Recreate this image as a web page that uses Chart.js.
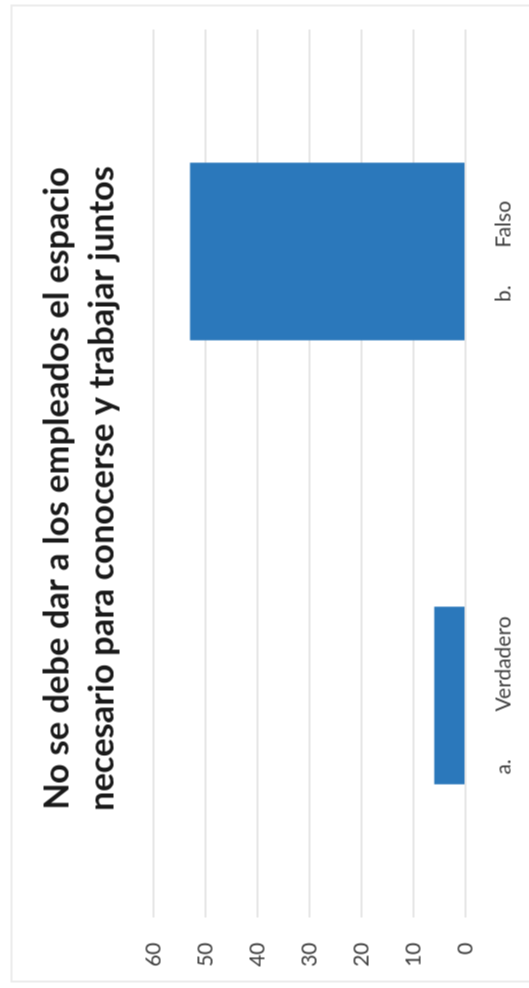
<!DOCTYPE html>
<html>
<head>
<meta charset="utf-8">
<script src="https://cdn.jsdelivr.net/npm/chart.js@4.4.0/dist/chart.umd.min.js"></script>
<style>
  html, body { margin: 0; padding: 0; background: #fff; overflow: hidden; }
  /* the scanned chart lies on its side, so the whole chart is turned a quarter to the left */
  #page {
    position: absolute; left: -229.5px; top: 229.5px;
    width: 988px; height: 529px;
    transform: rotate(-90deg);
    background: #fff;
  }
  #frame {
    position: absolute; left: 6px; top: 10px; right: 4px; bottom: -6px;
    border: 2px solid #ececec;
  }
  #myChart { position: absolute; left: 0; top: 0; }
</style>
</head>
<body>
<div id="page">
  <div id="frame"></div>
  <canvas id="myChart" width="988" height="529"></canvas>
</div>
<script>
let titleLines = ['No se debe dar a los empleados el espacio', 'necesario para conocerse y trabajar juntos']
let categories = ['a.\u00a0\u00a0\u00a0\u00a0\u00a0\u00a0\u00a0\u00a0\u00a0Verdadero', 'b.\u00a0\u00a0\u00a0\u00a0\u00a0\u00a0\u00a0Falso']
let answers = [6, 53]
let valueTicks = [0, 10, 20, 30, 40, 50, 60]

let ctx = document.getElementById('myChart').getContext('2d')

// title in the scan sits a bit right of the canvas centre
let titleShift = {
    id: 'titleShift',
    afterLayout: (chart) => { chart.titleBlock.left += 31 }
}

new Chart(ctx, {
    type: 'bar',
    data: {
        labels: categories,
        datasets: [{
            label: 'Respuestas',
            data: answers,
            backgroundColor: '#2b78bb',
            borderWidth: 0,
            categoryPercentage: 0.5,
            barPercentage: 0.8
        }]
    },
    plugins: [titleShift],
    options: {
        responsive: false,
        devicePixelRatio: 1,
        animation: false,
        layout: {
            padding: { left: 10, right: 29, top: 10, bottom: 0 }
        },
        plugins: {
            legend: { display: false },
            tooltip: { enabled: false },
            title: {
                display: true,
                text: titleLines,
                color: '#1a1a1a',
                font: { family: 'Lato', size: 34.5, weight: 'bold', lineHeight: 1.3043 },
                padding: { top: 24.5, bottom: 28.5 }
            }
        },
        scales: {
            x: {
                afterFit: (scale) => { scale.height = 64 },
                grid: { display: false, drawTicks: false },
                border: { display: false },
                ticks: {
                    color: '#404040',
                    font: { family: 'Lato', size: 21 },
                    padding: 26,
                    maxRotation: 0,
                    autoSkip: false
                }
            },
            y: {
                min: valueTicks[0],
                max: valueTicks[valueTicks.length - 1],
                afterFit: (scale) => { scale.width = 61 },
                afterBuildTicks: (scale) => { scale.ticks = valueTicks.map(v => ({ value: v })) },
                grid: { color: '#e6e6e6', lineWidth: 2, drawTicks: false },
                border: { display: false },
                ticks: {
                    color: '#404040',
                    font: { family: 'Lato', size: 21 },
                    padding: 25
                }
            }
        }
    }
})
</script>
</body>
</html>
